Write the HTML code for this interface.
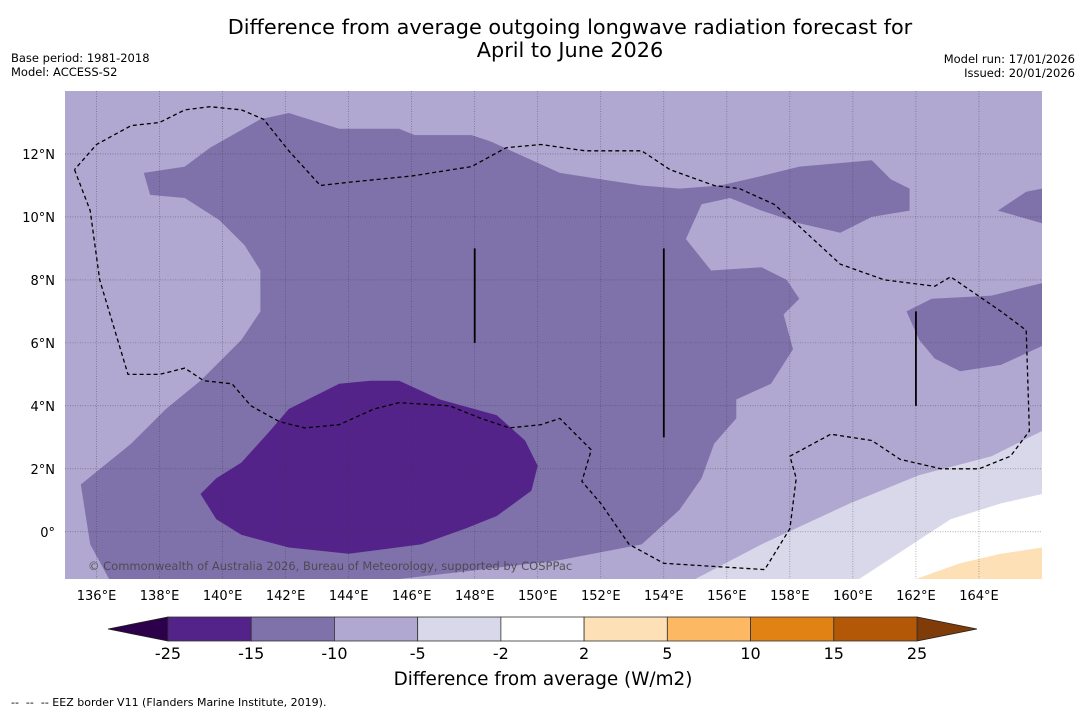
<!DOCTYPE html>
<html><head><meta charset="utf-8"><style>
body{margin:0;background:#fff;width:1085px;height:713px;overflow:hidden;font-family:"DejaVu Sans","Liberation Sans",sans-serif;}
svg{position:absolute;left:0;top:0}
</style></head><body>
<svg id="c" width="1085" height="713">
<text x="570" y="34" font-size="20.8" text-anchor="middle">Difference from average outgoing longwave radiation forecast for</text>
<text x="570" y="57" font-size="20.8" text-anchor="middle">April to June 2026</text>
<text x="11" y="62" font-size="11.5">Base period: 1981-2018</text>
<text x="11" y="76" font-size="11.5">Model: ACCESS-S2</text>
<text x="1075" y="63" font-size="11.5" text-anchor="end">Model run: 17/01/2026</text>
<text x="1075" y="77" font-size="11.5" text-anchor="end">Issued: 20/01/2026</text>
<text x="11" y="706" font-size="11" xml:space="preserve" style="white-space:pre">--  --  -- EEZ border V11 (Flanders Marine Institute, 2019).</text>
<text x="543" y="685" font-size="18.4" text-anchor="middle">Difference from average (W/m2)</text>
<g id="map"></g>
<g id="cbar"></g>
</svg>
<script>
const NS='http://www.w3.org/2000/svg';
const lonMin=135,lonMax=166,latMin=-1.5,latMax=14;
const X0=65,X1=1042,Y0=91,Y1=579;
function px(lon){return X0+(lon-lonMin)/(lonMax-lonMin)*(X1-X0);}
function py(lat){return Y0+(latMax-lat)/(latMax-latMin)*(Y1-Y0);}
const lonTicks=[136,138,140,142,144,146,148,150,152,154,156,158,160,162,164];
const latTicks=[0,2,4,6,8,10,12];
const mediumLon=[137.5,138.8,139.6,141.2,142.1,143.7,145.6,146.1,147.9,148.5,149.6,150.7,152.0,153.3,154.5,155.8,157.1,158.3,160.6,161.2,161.8,161.8,160.6,159.6,158.3,157.1,156.1,155.2,154.7,155.5,157.1,157.9,158.3,157.8,158.1,157.4,156.3,156.3,155.6,155.2,154.5,153.3,150.7,148.2,145.6,136.4,135.8,135.5,137.1,138.2,139.3,140.6,141.2,141.2,140.7,139.9,138.8,137.7];
const mediumLat=[11.4,11.6,12.2,13.1,13.3,12.8,12.8,12.6,12.6,12.4,11.9,11.4,11.2,11.0,10.9,11.0,11.3,11.6,11.8,11.2,10.9,10.2,10.0,9.5,9.8,10.2,10.6,10.4,9.3,8.3,8.4,8.0,7.4,6.9,5.8,4.7,4.2,3.6,2.8,1.7,0.7,-0.4,-0.9,-1.2,-1.5,-1.5,-0.4,1.5,2.8,3.9,4.8,6.1,7.0,8.3,9.1,9.9,10.6,10.7];
const medium2Lon=[161.7,162.5,164.4,166,166,164.7,163.4,162.6,162.1];
const medium2Lat=[7.0,7.4,7.5,7.9,5.9,5.3,5.1,5.5,6.1];
const medium3Lon=[164.6,165.5,166,166];
const medium3Lat=[10.2,10.8,10.9,9.8];
const darkLon=[139.3,139.8,140.6,141.5,142.1,143.7,144.7,145.6,146.9,148.7,149.6,150.0,149.8,148.7,147.7,146.3,144.0,142.1,140.6,139.8];
const darkLat=[1.2,1.7,2.2,3.2,3.9,4.7,4.8,4.8,4.2,3.7,2.9,2.1,1.3,0.5,0.1,-0.4,-0.7,-0.5,-0.1,0.4];
const vlightLon=[155.0,157.1,159.9,162.1,164.4,166,166];
const vlightLat=[-1.5,-0.4,0.9,1.8,2.4,3.2,-1.5];
const whiteLon=[160.2,163.1,164.7,166,166];
const whiteLat=[-1.5,0.4,0.9,1.2,-1.5];
const peachLon=[162,163.4,164.7,166,166];
const peachLat=[-1.5,-1.0,-0.7,-0.5,-1.5];
const eezLon=[135.3,135.8,136.1,137.0,138.0,138.8,139.4,140.3,140.9,141.8,142.6,143.7,144.8,145.6,147.2,148.2,149.1,150.1,150.7,151.7,151.4,152.0,152.9,154.0,157.2,158.0,158.2,158.0,159.3,160.6,161.5,162.8,164.0,165.0,165.6,165.5,164.7,163.1,162.6,161.0,159.6,158.3,157.5,156.4,155.6,154.2,153.3,152.3,151.5,150.1,149.0,147.9,146.0,144.0,143.1,142.1,141.3,140.6,139.6,138.8,138.0,137.1,136.0,135.3];
const eezLat=[11.5,10.2,8.0,5.0,5.0,5.2,4.8,4.7,4.0,3.5,3.3,3.4,3.9,4.1,4.0,3.6,3.3,3.4,3.6,2.6,1.6,0.9,-0.4,-1.0,-1.2,0.1,1.7,2.4,3.1,2.9,2.3,2.0,2.0,2.4,3.2,6.4,7.0,8.1,7.8,8.0,8.5,9.7,10.4,10.9,11.0,11.5,12.1,12.1,12.1,12.3,12.2,11.6,11.3,11.1,11.0,12.1,13.1,13.4,13.5,13.4,13.0,12.9,12.3,11.5];
const segLon=[148,154,162];
const segLatA=[6,3,4];
const segLatB=[9,9,7];
const cbLevels=['-25','-15','-10','-5','-2','2','5','10','15','25'];
const cbColors=['#54238a','#7f72ab','#b0a8d0','#d8d8ea','#ffffff','#fde0b5','#fdb863','#e08214','#b35806'];

const map=document.getElementById('map');
function el(tag,attrs,parent){const e=document.createElementNS(NS,tag);for(const k in attrs)e.setAttribute(k,attrs[k]);(parent||map).appendChild(e);return e;}
const defs=el('defs',{});
const cp=el('clipPath',{id:'clip'},defs);
el('rect',{x:X0,y:Y0,width:X1-X0,height:Y1-Y0},cp);
const g=el('g',{'clip-path':'url(#clip)'});
let bg=el('rect',{x:X0,y:Y0,width:X1-X0,height:Y1-Y0,fill:'#b0a8d0'},g);


function poly(lons,lats,fill,name){
  const pts=lons.map((l,i)=>px(l).toFixed(1)+','+py(lats[i]).toFixed(1)).join(' ');
  const p=el('polygon',{points:pts,fill:fill},g);
  
  
}
poly(mediumLon,mediumLat,'#7f72ab','contour-minus15-minus10-main');
poly(medium2Lon,medium2Lat,'#7f72ab','contour-minus15-minus10-east');
poly(medium3Lon,medium3Lat,'#7f72ab','contour-minus15-minus10-northeast');
poly(darkLon,darkLat,'#54238a','contour-minus25-minus15');
poly(vlightLon,vlightLat,'#d8d8ea','contour-minus5-minus2');
poly(whiteLon,whiteLat,'#ffffff','contour-minus2-2');
poly(peachLon,peachLat,'#fde0b5','contour-2-5');
lonTicks.forEach(l=>{const ln=el('line',{x1:px(l),x2:px(l),y1:Y0,y2:Y1,stroke:'#333','stroke-width':0.6,'stroke-dasharray':'1,1.5',opacity:0.6},g);

});
latTicks.forEach(l=>{const ln=el('line',{x1:X0,x2:X1,y1:py(l),y2:py(l),stroke:'#333','stroke-width':0.6,'stroke-dasharray':'1,1.5',opacity:0.6},g);

});
const ez=el('polyline',{points:eezLon.map((l,i)=>px(l).toFixed(1)+','+py(eezLat[i]).toFixed(1)).join(' '),fill:'none',stroke:'#000','stroke-width':1.3,'stroke-dasharray':'4,3'},g);


segLon.forEach((l,i)=>{const s=el('line',{x1:px(l),x2:px(l),y1:py(segLatA[i]),y2:py(segLatB[i]),stroke:'#000','stroke-width':1.8},g);

});
const cr=el('text',{x:88,y:570,'font-size':11.5,fill:'#444',opacity:0.85},g);
cr.textContent='© Commonwealth of Australia 2026, Bureau of Meteorology, supported by COSPPac';


lonTicks.forEach(l=>{const t=el('text',{x:px(l),y:600,'font-size':13,'text-anchor':'middle'});t.textContent=l+'°E';

});
latTicks.forEach(l=>{const t=el('text',{x:55,y:py(l)+5,'font-size':13,'text-anchor':'end'});t.textContent=l===0?'0°':l+'°N';

});
const cb=document.getElementById('cbar');
const cbX0=168,cbX1=917,cbY=617,cbH=24,n=cbColors.length,w=(cbX1-cbX0)/n;
const lt=el('polygon',{points:`${cbX0},${cbY} ${cbX0},${cbY+cbH} 108,${cbY+cbH/2}`,fill:'#2d004b',stroke:'#222','stroke-width':0.8},cb);


const rt=el('polygon',{points:`${cbX1},${cbY} ${cbX1},${cbY+cbH} 977,${cbY+cbH/2}`,fill:'#7f3b08',stroke:'#222','stroke-width':0.8},cb);


cbColors.forEach((c,i)=>{const r=el('rect',{x:cbX0+i*w,y:cbY,width:w,height:cbH,fill:c,stroke:'#333','stroke-width':0.8},cb);

});
cbLevels.forEach((v,i)=>{const t=el('text',{x:cbX0+i*w,y:659,'font-size':16,'text-anchor':'middle'},cb);t.textContent=v;

});
</script>
</body></html>
